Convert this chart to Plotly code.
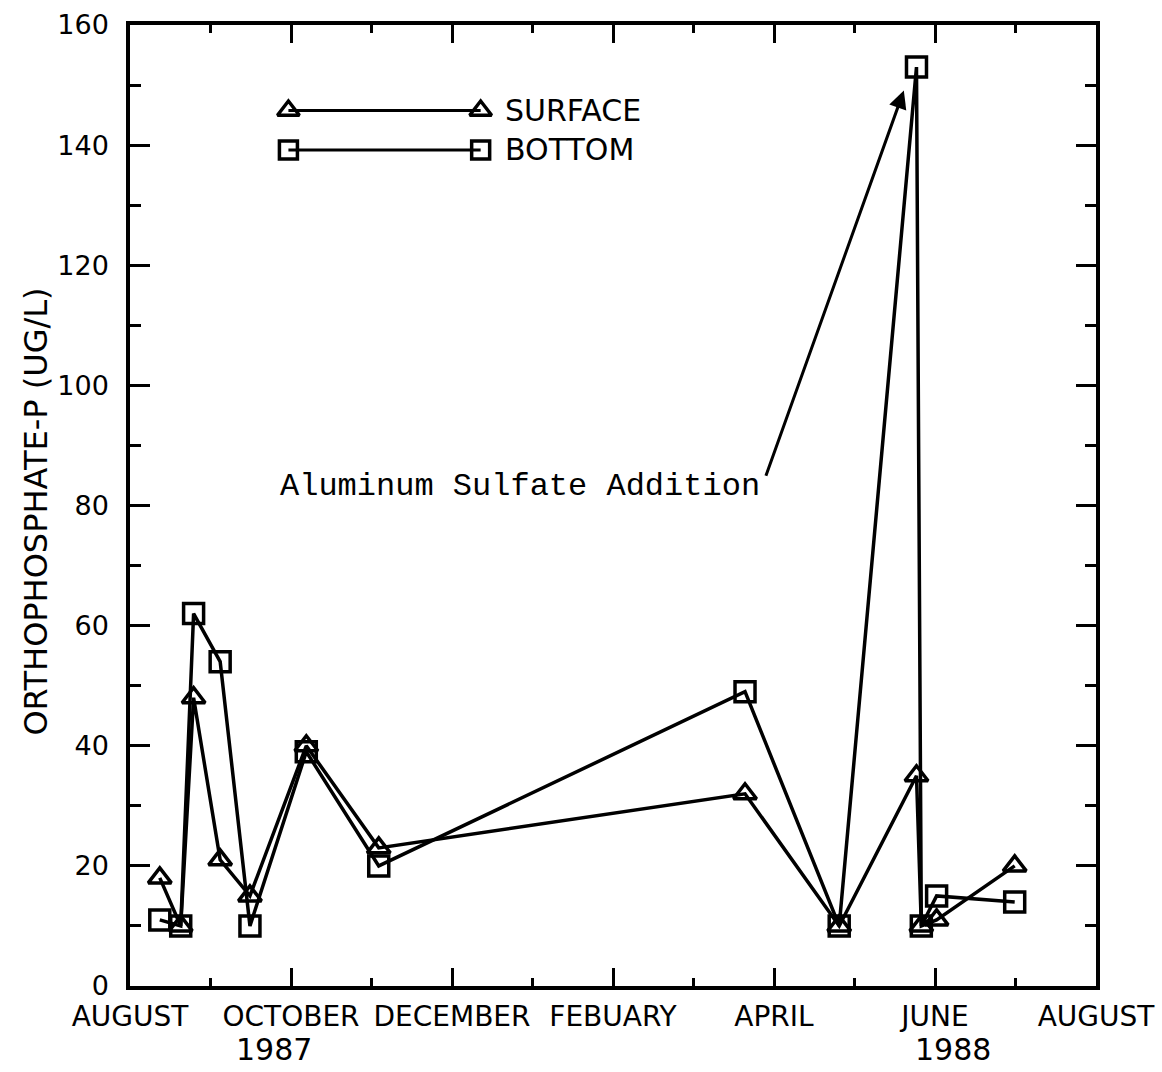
import plotly.graph_objects as go

# Sampling times, in months after 1 August 1987 (0 = Aug 1987, 12 = Aug 1988)
sample_month = [0.37, 0.63, 0.79, 1.12, 1.49, 2.19, 3.09, 7.64, 8.81, 9.77, 9.83, 10.02, 10.99]

# Orthophosphate-P concentrations (ug/L)
surface_op = [18, 10, 48, 21, 15, 40, 23, 32, 10, 35, 10, 11, 20]
bottom_op = [11, 10, 62, 54, 10, 39, 20, 49, 10, 153, 10, 15, 14]

month_ticks = [0, 2, 4, 6, 8, 10, 12]
month_labels = ["AUGUST", "OCTOBER", "DECEMBER", "FEBUARY", "APRIL", "JUNE", "AUGUST"]
minor_month_ticks = [1, 3, 5, 7, 9, 11]
year_labels = ["1987", "1988"]
year_label_pos = [1.79, 10.22]

y_ticks = [0, 20, 40, 60, 80, 100, 120, 140, 160]

FONT = "DejaVu Sans"
INK = "black"

fig = go.Figure()

fig.add_trace(go.Scatter(
    x=sample_month, y=surface_op, mode="lines+markers", name="SURFACE",
    line=dict(color=INK, width=3.5),
    marker=dict(symbol="triangle-up-open", size=20, color=INK, line=dict(width=3.5, color=INK)),
    showlegend=False,
))
fig.add_trace(go.Scatter(
    x=sample_month, y=bottom_op, mode="lines+markers", name="BOTTOM",
    line=dict(color=INK, width=3.5),
    marker=dict(symbol="square-open", size=20, color=INK, line=dict(width=3.5, color=INK)),
    showlegend=False,
))

# Hand-drawn style key: a line with a marker at each end, on an overlay axis in 0..1 units
key_x = [0.164, 0.363]
key_rows = [("SURFACE", 0.911, "triangle-up-open", 19), ("BOTTOM", 0.870, "square-open", 18)]
for label, ky, sym, sz in key_rows:
    fig.add_trace(go.Scatter(
        x=key_x, y=[ky, ky], mode="lines+markers", xaxis="x2", yaxis="y2",
        line=dict(color=INK, width=3),
        marker=dict(symbol=sym, size=sz, color=INK, line=dict(width=3.5, color=INK)),
        showlegend=False, hoverinfo="skip",
    ))
    fig.add_annotation(x=0.386, y=ky, xref="paper", yref="paper", text=label,
                       showarrow=False, xanchor="left", yanchor="middle",
                       font=dict(family=FONT, size=30, color=INK))

axis_common = dict(
    showline=True, linewidth=3.5, linecolor=INK, mirror="ticks",
    ticks="inside", tickcolor=INK, tickwidth=2.5,
    showgrid=False, zeroline=False, automargin=False,
)

fig.update_layout(
    width=1162, height=1072,
    margin=dict(l=130, r=66, t=25, b=86),
    paper_bgcolor="white", plot_bgcolor="white",
    xaxis=dict(
        range=[0, 12], tickmode="array", tickvals=month_ticks, ticktext=month_labels,
        ticklen=18, ticklabelstandoff=3,
        tickfont=dict(family=FONT, size=28, color=INK),
        minor=dict(tickmode="array", tickvals=minor_month_ticks, ticks="inside",
                   ticklen=8, tickwidth=2.5, tickcolor=INK, showgrid=False),
        **axis_common,
    ),
    yaxis=dict(
        range=[0, 160], tickmode="array", tickvals=y_ticks,
        ticklen=20, ticklabelstandoff=12,
        tickfont=dict(family=FONT, size=27, color=INK),
        minor=dict(dtick=10, ticks="inside", ticklen=11, tickwidth=2.5,
                   tickcolor=INK, showgrid=False),
        **axis_common,
    ),
    xaxis2=dict(overlaying="x", range=[0, 1], visible=False),
    yaxis2=dict(overlaying="y", anchor="x2", range=[0, 1], visible=False),
)

# Year captions under the month labels
for yr, pos in zip(year_labels, year_label_pos):
    fig.add_annotation(x=pos, y=-0.066, xref="x", yref="paper", text=yr, showarrow=False,
                       xanchor="center", yanchor="middle",
                       font=dict(family=FONT, size=30, color=INK))

# Vertical axis title
fig.add_annotation(x=-0.097, y=0.494, xref="paper", yref="paper",
                   text="ORTHOPHOSPHATE-P (UG/L)", textangle=-90, showarrow=False,
                   xanchor="center", yanchor="middle",
                   font=dict(family=FONT, size=32, color=INK))

# Treatment note with its pointer to the June bottom-water peak
fig.add_annotation(x=4.85, y=83.1, xref="x", yref="y", text="Aluminum Sulfate Addition",
                   showarrow=False, xanchor="center", yanchor="middle",
                   font=dict(family="Liberation Mono, Courier New, monospace", size=32, color=INK))
fig.add_annotation(x=9.613, y=149.1, xref="x", yref="y", ax=7.893, ay=84.7,
                   axref="x", ayref="y", text="", showarrow=True,
                   arrowhead=2, arrowsize=1.2, arrowwidth=3, arrowcolor=INK, standoff=0)

fig.write_html("out.html")
